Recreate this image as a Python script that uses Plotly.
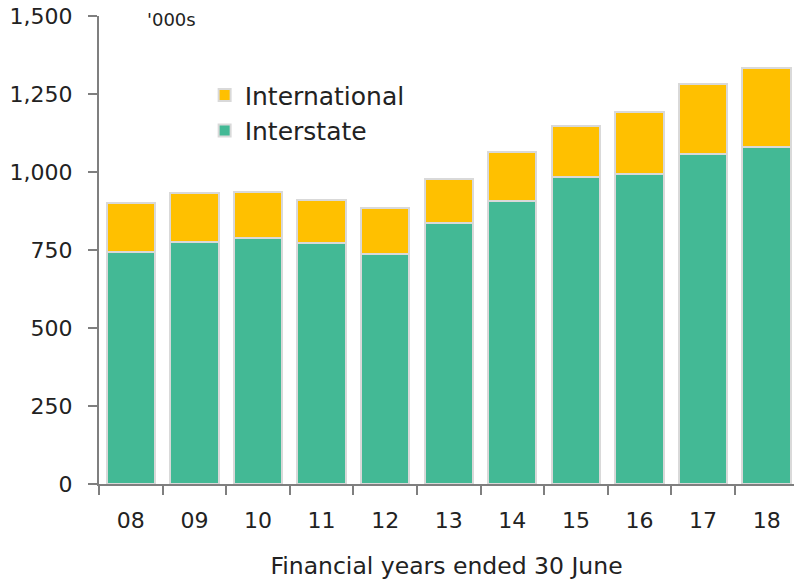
import plotly.graph_objects as go

years = ["08", "09", "10", "11", "12", "13", "14", "15", "16", "17", "18"]
interstate = [744, 776, 787, 774, 736, 836, 908, 985, 995, 1058, 1080]
international = [158, 156, 150, 135, 150, 142, 155, 164, 198, 225, 252]
y_ticks = [0, 250, 500, 750, 1000, 1250, 1500]
y_tick_labels = ["0", "250", "500", "750", "1,000", "1,250", "1,500"]

FONT = "DejaVu Sans"
TXT = "#222222"
AX = "#7f7f7f"

fig = go.Figure()
fig.add_trace(go.Bar(x=years, y=interstate, name="Interstate", legendgroup="a",
                     marker=dict(color="#43b995", line=dict(color="#d9d9d9", width=2))))
fig.add_trace(go.Bar(x=years, y=international, name="International", legendgroup="b",
                     marker=dict(color="#ffc000", line=dict(color="#d9d9d9", width=2))))

fig.update_layout(
    width=794, height=580,
    barmode="stack", bargap=0.24,
    plot_bgcolor="white", paper_bgcolor="white",
    margin=dict(l=99, r=0, t=16, b=96),
    font=dict(family=FONT, color=TXT, size=20),
    showlegend=True,
    legend=dict(x=0.152, y=0.88, xanchor="left", yanchor="top",
                traceorder="reversed", font=dict(size=25, color=TXT),
                bgcolor="rgba(0,0,0,0)", itemwidth=30, tracegroupgap=6),
    xaxis=dict(type="category", range=[-0.5, 10.43], showline=True, linecolor=AX, linewidth=2,
               automargin=False,
               ticks="outside", tickson="boundaries", ticklen=9, tickcolor=AX, tickwidth=2,
               ticklabelstandoff=16, tickfont=dict(size=22, color=TXT),
               title=dict(text="Financial years ended 30 June", font=dict(size=23.5, color=TXT), standoff=28)),
    yaxis=dict(range=[0, 1500], showline=True, linecolor=AX, linewidth=2, showgrid=False,
               zeroline=False, automargin=False, ticklabeloverflow="allow",
               ticks="outside", ticklen=9, tickcolor=AX, tickwidth=2,
               tickvals=y_ticks, ticktext=y_tick_labels, ticklabelstandoff=11,
               tickfont=dict(size=22, color=TXT)),
)
fig.add_shape(type="line", xref="paper", yref="y", x0=-0.013, x1=0, y0=0, y1=0,
              line=dict(color=AX, width=2))
fig.add_annotation(text="'000s", xref="paper", yref="y", x=0.066, y=1490, xanchor="left",
                   yanchor="middle", showarrow=False, font=dict(size=18, color=TXT))
fig.write_html("out.html", config={"displayModeBar": False},
               post_script="document.body.style.margin='0';")
